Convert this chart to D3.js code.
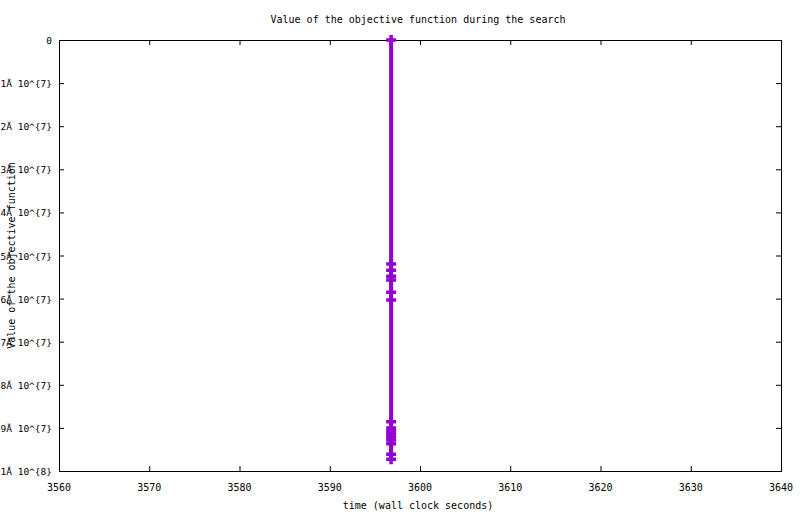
<!DOCTYPE html>
<html><head><meta charset="utf-8">
<script src="https://cdn.jsdelivr.net/npm/d3@7"></script>
<style>
html,body{margin:0;padding:0;background:#fff;}
svg{display:block;}
text{font-family:"DejaVu Sans Mono",monospace;font-size:10px;fill:#000;}
</style></head>
<body>
<script>
const times = [3596.8, 3596.8, 3596.8, 3596.8, 3596.8, 3596.8, 3596.8, 3596.8, 3596.8, 3596.8, 3596.8, 3596.8, 3596.8, 3596.8, 3596.8, 3596.8];
const values = [0, 5.20e7, 5.34e7, 5.48e7, 5.57e7, 5.85e7, 6.03e7, 8.86e7, 9.00e7, 9.07e7, 9.14e7, 9.21e7, 9.28e7, 9.37e7, 9.61e7, 9.73e7];
const xTicks = [3560, 3570, 3580, 3590, 3600, 3610, 3620, 3630, 3640];
const yTicks = [0, 1e7, 2e7, 3e7, 4e7, 5e7, 6e7, 7e7, 8e7, 9e7, 1e8];
const yTickLabels = ["0", "1Ă 10^{7}", "2Ă 10^{7}", "3Ă 10^{7}", "4Ă 10^{7}", "5Ă 10^{7}", "6Ă 10^{7}", "7Ă 10^{7}", "8Ă 10^{7}", "9Ă 10^{7}", "1Ă 10^{8}"];
const titleText = "Value of the objective function during the search";
const xLabel = "time (wall clock seconds)";
const yLabel = "Value of the objective function";

const W = 800, H = 514;
const m = {left: 59, right: 19, top: 40, bottom: 43};
const svg = d3.select("body").append("svg").attr("width", W).attr("height", H);
const x = d3.scaleLinear().domain([3560, 3640]).range([m.left, W - m.right]);
const y = d3.scaleLinear().domain([0, 1e8]).range([m.top, H - m.bottom]);

const tl = 5;
const g = svg.append("g");
xTicks.forEach(t => {
  g.append("line").attr("x1", x(t) + 0.5).attr("x2", x(t) + 0.5).attr("y1", y(1e8)).attr("y2", y(1e8) - tl).attr("stroke", "#000");
  g.append("line").attr("x1", x(t) + 0.5).attr("x2", x(t) + 0.5).attr("y1", y(0)).attr("y2", y(0) + tl).attr("stroke", "#000");
  g.append("text").attr("x", x(t)).attr("y", y(1e8) + 20).attr("text-anchor", "middle").text(t);
});
yTicks.forEach((t, i) => {
  g.append("line").attr("x1", x(3560)).attr("x2", x(3560) + tl).attr("y1", y(t) + 0.5).attr("y2", y(t) + 0.5).attr("stroke", "#000");
  g.append("line").attr("x1", x(3640)).attr("x2", x(3640) - tl).attr("y1", y(t) + 0.5).attr("y2", y(t) + 0.5).attr("stroke", "#000");
  g.append("text").attr("x", 52).attr("y", y(t) + 4).attr("text-anchor", "end")
    .style("font-size", "9.5px").text(yTickLabels[i]);
});
g.append("rect").attr("x", x(3560) + 0.5).attr("y", y(0) + 0.5)
  .attr("width", x(3640) - x(3560)).attr("height", y(1e8) - y(0))
  .attr("fill", "none").attr("stroke", "#000").attr("stroke-width", 1);

svg.append("text").attr("x", 418).attr("y", 23).attr("text-anchor", "middle").text(titleText);
svg.append("text").attr("x", 418).attr("y", 509).attr("text-anchor", "middle").text(xLabel);
svg.append("text").attr("transform", "translate(15," + ((y(0) + y(1e8)) / 2) + ") rotate(-90)")
  .attr("text-anchor", "middle").text(yLabel);

const col = "#9400d3";
const pts = times.map((t, i) => [t, values[i]]);
svg.append("path").datum(pts)
  .attr("d", d3.line().x(d => x(d[0])).y(d => y(d[1])))
  .attr("fill", "none").attr("stroke", col).attr("stroke-width", 4);
const s = 5;
svg.append("g").selectAll("path").data(pts).join("path")
  .attr("d", d => {
    const px = x(d[0]), py = y(d[1]);
    return `M${px - s},${py}H${px + s}M${px},${py - s}V${py + s}`;
  })
  .attr("stroke", col).attr("stroke-width", 3.5).attr("fill", "none");
</script>
</body></html>
